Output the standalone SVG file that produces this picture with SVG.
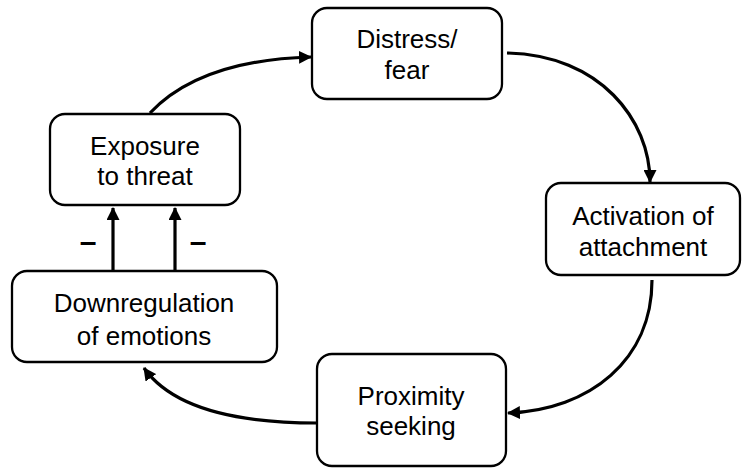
<svg xmlns="http://www.w3.org/2000/svg" width="742" height="468" viewBox="0 0 742 468">
<defs>
<marker id="ah" viewBox="0 0 13 13" refX="12" refY="6.5" markerWidth="13" markerHeight="13" markerUnits="userSpaceOnUse" orient="auto">
<path d="M0,0 L13,6.5 L0,13 Z" fill="#000"/>
</marker>
<style>
.box{fill:#fff;stroke:#000;stroke-width:2.3}
.lbl{font-family:"Liberation Sans",Arial,sans-serif;font-size:26px;fill:#000;text-anchor:middle}
.con{fill:none;stroke:#000;stroke-width:3.2;marker-end:url(#ah)}
.neg{font-family:"Liberation Sans",Arial,sans-serif;font-size:30px;font-weight:bold;fill:#000;text-anchor:middle}
</style>
</defs>
<rect width="742" height="468" fill="#fff"/>
<g id="connectors">
<path class="con" d="M150,113 Q200,60 311,57"/>
<path class="con" d="M507,53 C600,55 650,120 650,182"/>
<path class="con" d="M652,280 C652,360 590,410 508,413"/>
<path class="con" d="M317,423 C230,423 170,405 144,368"/>
<path class="con" d="M113,271 L113,208"/>
<path class="con" d="M175,271 L175,208"/>
<text class="neg" x="88" y="252">–</text>
<text class="neg" x="198" y="252">–</text>
</g>
<g id="distress">
<rect class="box" x="312" y="8" width="190" height="91" rx="15"/>
<text class="lbl" x="407" y="48">Distress/</text>
<text class="lbl" x="407" y="79">fear</text>
</g>
<g id="activation">
<rect class="box" x="546" y="183" width="194" height="92" rx="15"/>
<text class="lbl" x="643" y="225">Activation of</text>
<text class="lbl" x="643" y="256">attachment</text>
</g>
<g id="proximity">
<rect class="box" x="317" y="354" width="189" height="112" rx="15"/>
<text class="lbl" x="411" y="405">Proximity</text>
<text class="lbl" x="411" y="435">seeking</text>
</g>
<g id="downregulation">
<rect class="box" x="12" y="271" width="265" height="91" rx="15"/>
<text class="lbl" x="144" y="312">Downregulation</text>
<text class="lbl" x="144" y="345">of emotions</text>
</g>
<g id="exposure">
<rect class="box" x="50" y="114" width="190" height="91" rx="15"/>
<text class="lbl" x="145" y="155">Exposure</text>
<text class="lbl" x="145" y="185">to threat</text>
</g>
</svg>
